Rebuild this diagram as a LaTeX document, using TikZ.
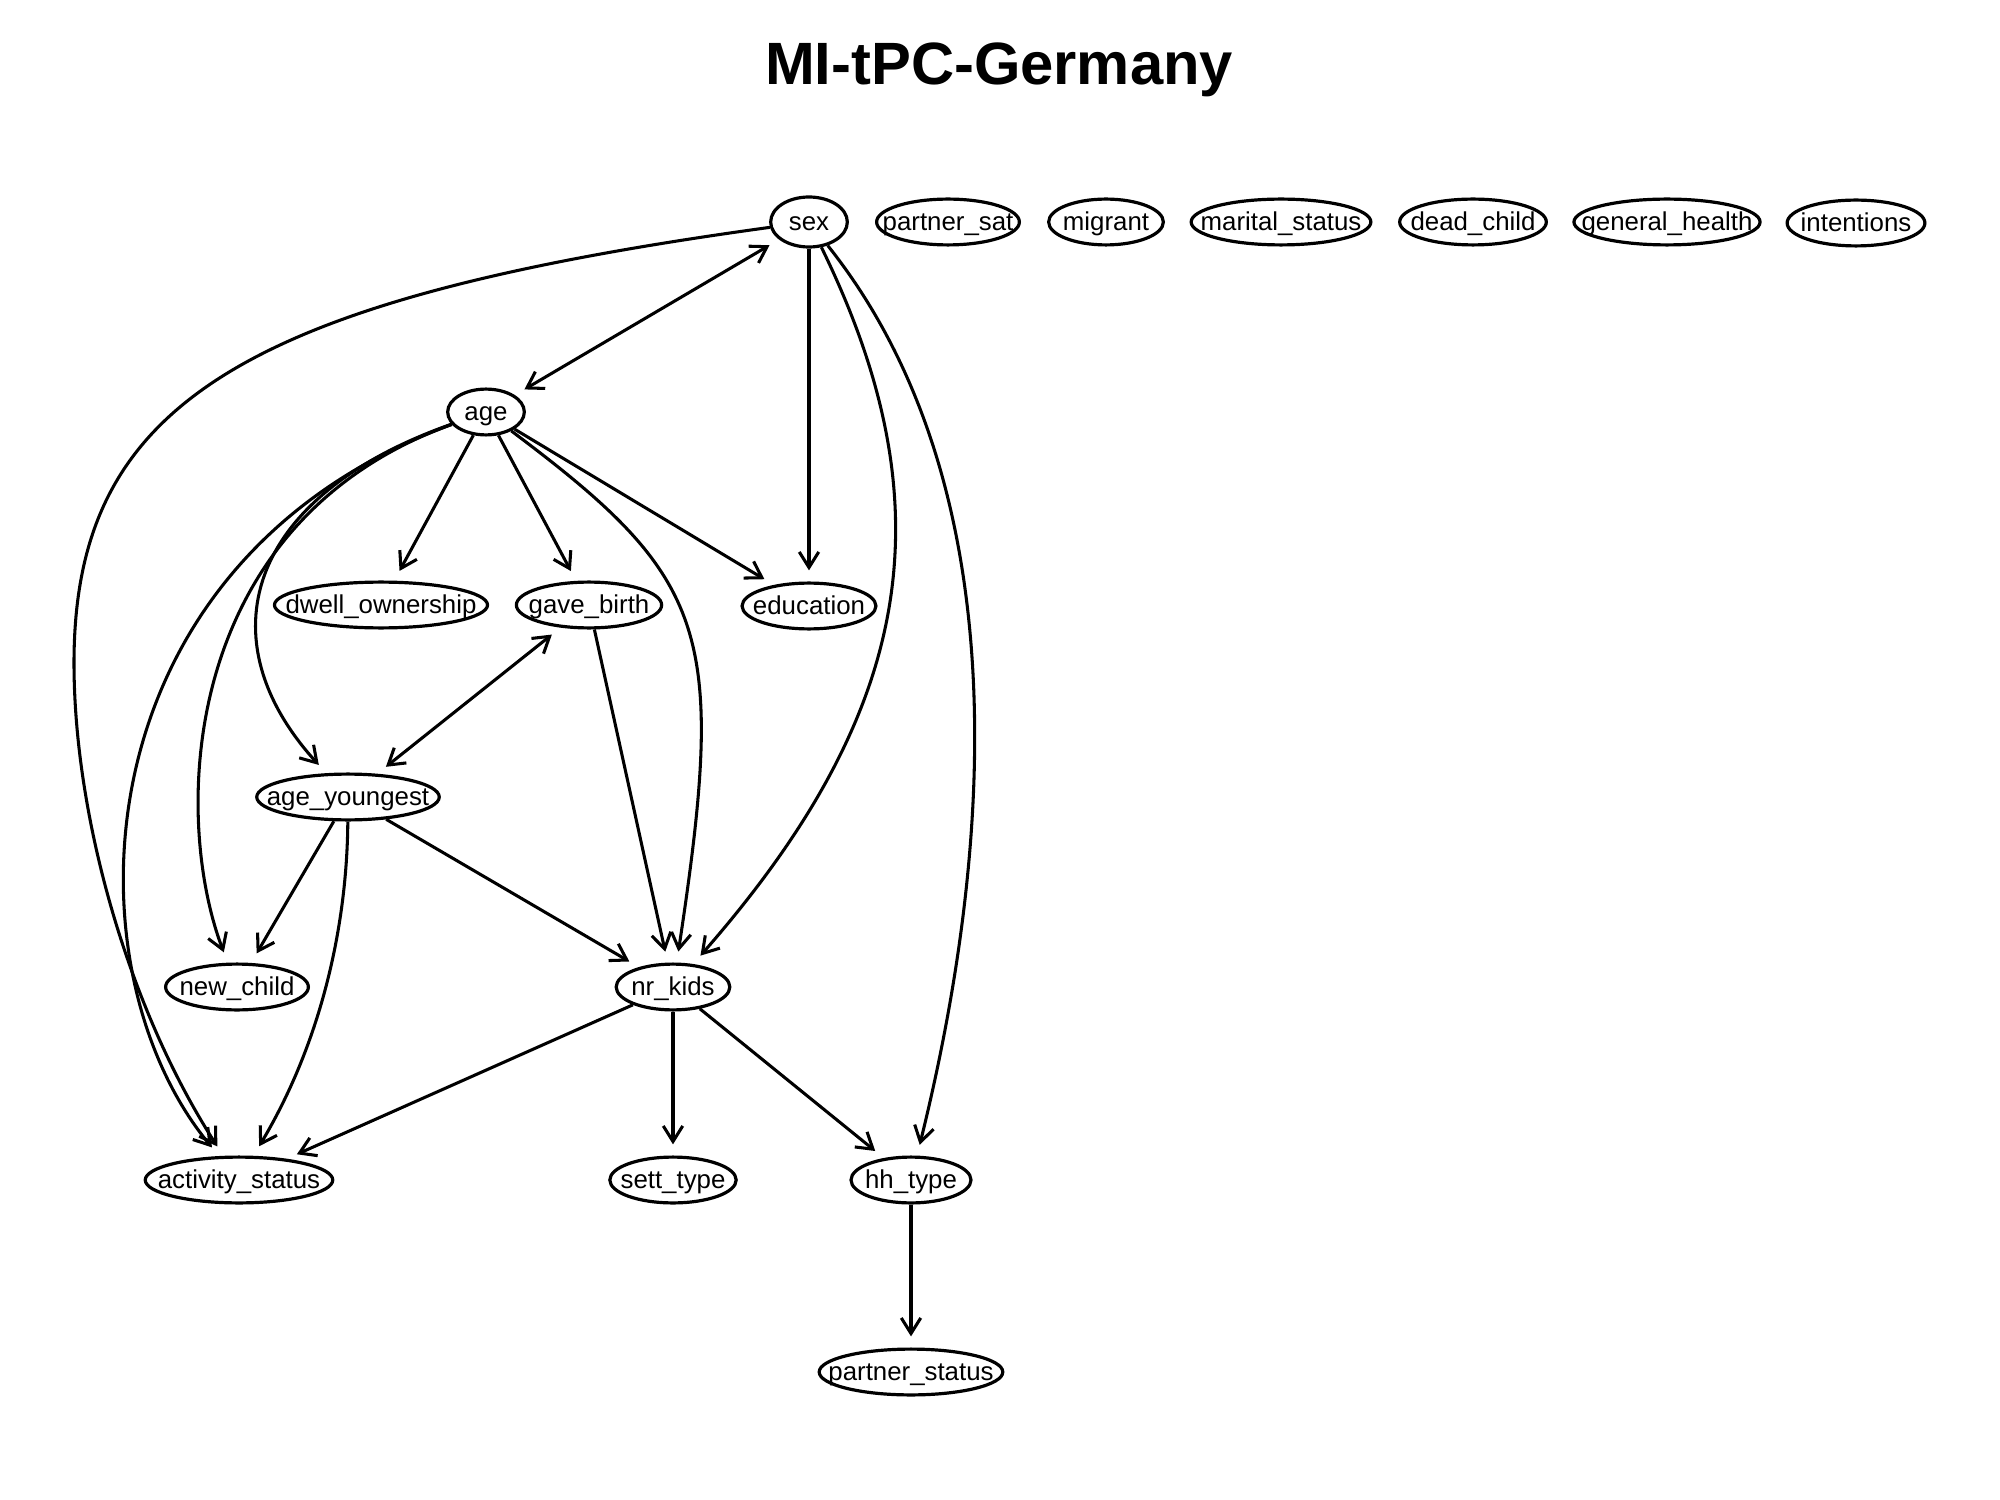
\documentclass[tikz,border=0pt]{standalone}
\usepackage{fontspec}
\setmainfont{Liberation Sans}
\usetikzlibrary{arrows.meta,shapes.geometric}
\newcommand{\vlab}[1]{\makebox[0pt]{#1}}

\begin{document}
\begin{tikzpicture}[x=0.36pt,y=0.36pt,yscale=-1,xscale=1,
  var/.style={ellipse,draw,line width=1.15pt,inner sep=0pt,minimum height=16.5pt,text height=6.6pt,text depth=0.6pt,font=\fontsize{9.3}{11}\selectfont},
  link/.style={line width=1.1pt,-{Straight Barb[length=5.6pt,width=7pt]},shorten >=4pt},
  bilink/.style={link,{Straight Barb[length=5.6pt,width=7pt]}-{Straight Barb[length=5.6pt,width=7pt]},shorten <=4pt}]

\fill [white] (0,0) rectangle (2000,1500);
\useasboundingbox (0,0) rectangle (2000,1500);

\node [anchor=base,font=\fontsize{21.5}{26}\selectfont\bfseries] (title) at (999,85) {MI-tPC-Germany};

% top row
\node [var,minimum width=27.6pt,minimum height=18pt] (sex) at (809,222) {\vlab{sex}};
\node [var,minimum width=51.4pt] (psat) at (948,222) {\vlab{partner\_sat}};
\node [var,minimum width=41.3pt] (migr) at (1106,222) {\vlab{migrant}};
\node [var,minimum width=64.7pt] (mari) at (1281,222) {\vlab{marital\_status}};
\node [var,minimum width=52.8pt] (dead) at (1473,222) {\vlab{dead\_child}};
\node [var,minimum width=67pt] (ghea) at (1667,222) {\vlab{general\_health}};
\node [var,minimum width=49.6pt] (inte) at (1856,223) {\vlab{intentions}};

\node [var,minimum width=27.6pt] (age) at (486,412) {\vlab{age}};

\node [var,minimum width=76.7pt] (dwel) at (381,605) {\vlab{dwell\_ownership}};
\node [var,minimum width=52.3pt] (gave) at (589,605) {\vlab{gave\_birth}};
\node [var,minimum width=48.2pt] (educ) at (809,606) {\vlab{education}};

\node [var,minimum width=65.7pt] (ageY) at (348,797) {\vlab{age\_youngest}};

\node [var,minimum width=51.4pt] (newc) at (237,987) {\vlab{new\_child}};
\node [var,minimum width=40.9pt] (nkid) at (673,987) {\vlab{nr\_kids}};

\node [var,minimum width=67.5pt] (acti) at (239,1180) {\vlab{activity\_status}};
\node [var,minimum width=45.5pt] (sett) at (673,1180) {\vlab{sett\_type}};
\node [var,minimum width=43.2pt] (hhty) at (911,1180) {\vlab{hh\_type}};

\node [var,minimum width=66.1pt] (pstat) at (911,1372) {\vlab{partner\_status}};

% edges from sex
\draw [bilink] (sex) -- (age);
\draw [link] (sex) -- (educ);
\draw [link] (sex) .. controls (240,300) and (74,405) .. (74,663) .. controls (74,816) and (128,1008) .. (acti);
\draw [link] (sex) .. controls (950,510) and (912,714) .. (nkid);
\draw [link] (sex) .. controls (1008,472) and (1001,816) .. (hhty);

% edges from age
\draw [link] (age) -- (dwel);
\draw [link] (age) -- (gave);
\draw [link] (age) -- (educ);
\draw [link] (age) .. controls (709,579) and (727,631) .. (nkid);
\draw [link] (age) .. controls (245,497) and (205,640) .. (ageY);
\draw [link] (age) .. controls (179,523) and (172,816) .. (newc);
\draw [link] (age) .. controls (77,561) and (64,969) .. (acti);

% lower part
\draw [bilink] (gave) -- (ageY);
\draw [link] (gave) -- (nkid);
\draw [link] (ageY) -- (newc);
\draw [link] (ageY) -- (nkid);
\draw [link] (ageY) .. controls (347,931) and (319,1046) .. (acti);
\draw [link] (nkid) -- (acti);
\draw [link] (nkid) -- (sett);
\draw [link] (nkid) -- (hhty);
\draw [link] (hhty) -- (pstat);

\end{tikzpicture}
\end{document}
